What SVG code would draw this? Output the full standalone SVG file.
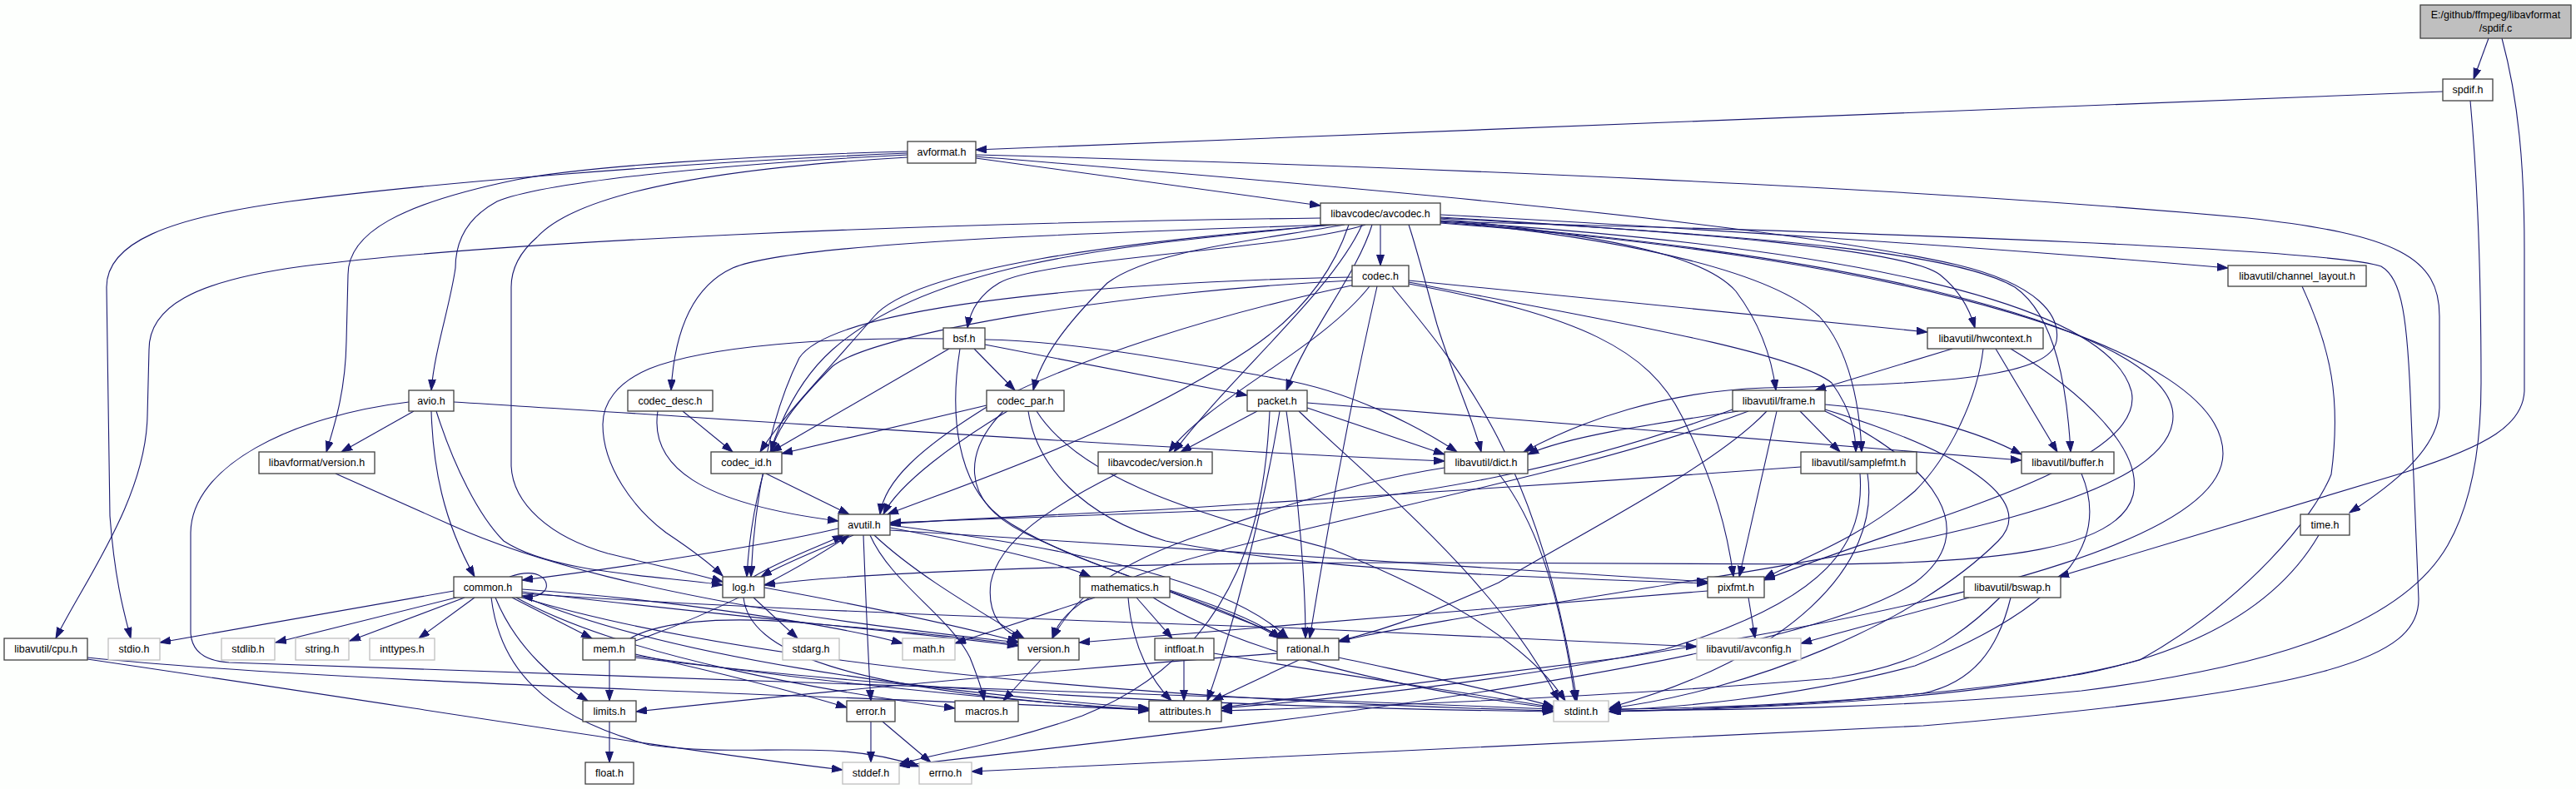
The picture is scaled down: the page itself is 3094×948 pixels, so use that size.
<svg xmlns="http://www.w3.org/2000/svg" width="3094" height="948" viewBox="0 0 3094 948">
<style>
.e{fill:none;stroke:#191970;stroke-width:1.1;marker-end:url(#a)}
.n rect{fill:#ffffff;stroke:#404040;stroke-width:1.3}
.g rect{fill:#ffffff;stroke:#bfbfbf;stroke-width:1.3}
.r rect{fill:#bfbfbf;stroke:#404040;stroke-width:1.3}
text{font-family:"Liberation Sans",Arial,sans-serif;font-size:12.5px;text-anchor:middle;fill:#000}
</style>
<defs>
<marker id="a" markerUnits="userSpaceOnUse" markerWidth="14" markerHeight="10" refX="13" refY="4.5" orient="auto">
<path d="M0,0 L13,4.5 L0,9 z" fill="#191970" stroke="#191970" stroke-width="1"/>
</marker>
</defs>
<rect x="0" y="0" width="3094" height="948" fill="#fdfffd"/>
<g id="edges">
<path class="e" d="M2989,46 L2971,95"/>
<path class="e" d="M3005,46 C3025,120 3032,200 3032,300 L3032,470 C3030,510 2990,535 2890,567 L2472,693"/>
<path class="e" d="M2934,110 L1172,180"/>
<path class="e" d="M2967,121 C2976,220 2980,320 2980,460 C2980,560 2960,620 2940,655 C2880,760 2700,805 2500,830 C2300,850 2100,853 1934,854"/>
<path class="e" d="M1172,186 C1700,200 2300,225 2700,262 C2880,282 2930,310 2930,380 L2930,490 C2930,540 2870,585 2822,616"/>
<path class="e" d="M1172,190 L1586,247"/>
<path class="e" d="M1090,182 C900,187 700,200 620,216 C480,245 418,280 418,330 L416,410 C415,470 402,510 392,543"/>
<path class="e" d="M1090,184 C800,196 500,222 348,242 C200,262 128,292 128,345 L132,620 C138,700 150,740 157,767"/>
<path class="e" d="M1090,186 C850,198 650,220 597,242 C560,262 547,292 547,322 C540,370 522,420 518,469"/>
<path class="e" d="M1090,189 C900,200 700,225 645,285 C622,305 614,325 614,345 L614,560 C616,605 660,645 730,665 C800,682 845,692 868,699"/>
<path class="e" d="M1172,188 C1500,215 2100,262 2350,318 C2450,342 2475,380 2470,410 C2462,450 2350,462 2120,466 C2000,470 1900,505 1830,543"/>
<path class="e" d="M1658,270 L1658,319"/>
<path class="e" d="M1730,258 C2000,272 2400,298 2676,322"/>
<path class="e" d="M1730,261 C2050,280 2290,300 2330,330 C2355,350 2366,372 2372,394"/>
<path class="e" d="M1730,263 C1950,285 2050,310 2085,350 C2115,390 2128,430 2133,469"/>
<path class="e" d="M1730,265 C1980,290 2130,330 2185,380 C2222,420 2234,490 2236,543"/>
<path class="e" d="M1730,262 C2150,285 2350,305 2420,345 C2470,380 2483,470 2487,543"/>
<path class="e" d="M1730,266 C2200,295 2530,360 2560,470 C2580,560 2300,625 2119,697"/>
<path class="e" d="M1730,267 C2250,305 2610,400 2610,500 C2610,600 2300,655 2000,703 C1800,735 1660,757 1608,771"/>
<path class="e" d="M1730,268 C2300,310 2670,420 2670,545 C2670,640 2400,720 1950,790 C1700,822 1550,840 1467,850"/>
<path class="e" d="M1730,266 C2300,280 2800,300 2860,320 C2885,335 2892,380 2896,500 L2905,720 C2905,790 2800,830 2310,872 C1800,900 1400,918 1167,927"/>
<path class="e" d="M1620,270 C1600,330 1560,380 1500,420 C1350,520 1150,585 1066,618"/>
<path class="e" d="M1692,270 C1702,300 1712,340 1726,390 C1748,460 1770,505 1779,543"/>
<path class="e" d="M1596,270 C1400,292 1130,305 1000,420 C930,482 902,600 897,693"/>
<path class="e" d="M1586,262 C1100,268 600,290 363,320 C230,338 179,370 179,420 L177,500 C175,600 100,700 67,767"/>
<path class="e" d="M1640,270 C1550,300 1250,310 1200,340 C1175,355 1165,375 1162,394"/>
<path class="e" d="M1600,270 C1300,280 950,292 880,322 C830,345 810,400 806,469"/>
<path class="e" d="M1615,270 C1500,290 1380,302 1330,340 C1280,390 1250,430 1241,469"/>
<path class="e" d="M1605,270 C1350,290 1100,322 1050,380 C990,450 940,500 913,543"/>
<path class="e" d="M1648,270 C1630,330 1570,400 1545,469"/>
<path class="e" d="M1636,270 C1600,350 1480,450 1410,543"/>
<path class="e" d="M1692,337 L2315,399"/>
<path class="e" d="M1692,339 C1900,380 2150,420 2200,460 C2222,490 2229,520 2229,543"/>
<path class="e" d="M1692,341 C1900,380 1980,420 2020,500 C2060,580 2075,640 2082,693"/>
<path class="e" d="M1654,344 C1630,450 1600,600 1573,767"/>
<path class="e" d="M1672,344 C1760,450 1850,560 1894,842"/>
<path class="e" d="M1624,337 C1350,350 1050,400 1000,440 C960,480 935,510 926,543"/>
<path class="e" d="M1628,342 C1450,380 1300,430 1200,480 C1100,540 1062,580 1057,618"/>
<path class="e" d="M1624,333 C1300,340 1000,370 960,430 C925,500 906,600 902,693"/>
<path class="e" d="M1645,344 C1585,420 1450,480 1404,543"/>
<path class="e" d="M2765,344 C2800,420 2812,480 2800,570 C2780,620 2700,720 2570,793 C2400,840 2100,852 1934,855"/>
<path class="e" d="M1170,419 L1219,469"/>
<path class="e" d="M1140,419 L926,543"/>
<path class="e" d="M1183,414 L1498,475"/>
<path class="e" d="M1183,408 C1300,410 1450,440 1540,456 C1620,470 1700,510 1750,543"/>
<path class="e" d="M1133,407 C1000,405 850,415 780,443 C740,460 724,485 724,510 C724,560 760,610 800,640 C830,660 852,676 868,692"/>
<path class="e" d="M1153,419 C1140,500 1150,580 1200,620 C1300,690 1480,720 1538,767"/>
<path class="e" d="M2397,419 L2471,543"/>
<path class="e" d="M2345,419 L2180,469"/>
<path class="e" d="M2382,419 C2375,480 2340,550 2300,590 C2230,650 2160,672 2119,695"/>
<path class="e" d="M2415,419 C2500,470 2575,540 2562,595 C2545,660 2400,676 2200,678 L1700,676 C1300,676 1000,690 918,703"/>
<path class="e" d="M497,494 L410,543"/>
<path class="e" d="M518,494 C520,560 532,625 570,693"/>
<path class="e" d="M524,494 C545,560 575,620 605,650 C665,690 800,692 868,703"/>
<path class="e" d="M545,483 C900,505 1400,540 1735,554"/>
<path class="e" d="M491,483 C350,500 230,560 229,640 L229,760 C230,782 245,794 275,796 C700,810 1300,830 1865,852"/>
<path class="e" d="M820,494 L880,543"/>
<path class="e" d="M790,494 C780,560 840,605 1007,626"/>
<path class="e" d="M1185,487 L939,545"/>
<path class="e" d="M1210,494 C1150,530 1080,580 1061,618"/>
<path class="e" d="M1205,494 C1160,540 1150,600 1230,640 C1330,690 1480,730 1537,767"/>
<path class="e" d="M1235,494 C1245,560 1300,620 1400,650 C1600,690 1900,695 2051,701"/>
<path class="e" d="M1245,494 C1300,580 1450,620 1600,660 C1750,720 1840,780 1880,842"/>
<path class="e" d="M1510,494 L1418,543"/>
<path class="e" d="M1570,490 L1735,546"/>
<path class="e" d="M1570,484 C1900,510 2200,535 2428,553"/>
<path class="e" d="M1545,494 C1560,600 1568,700 1568,767"/>
<path class="e" d="M1537,494 C1520,600 1480,760 1450,842"/>
<path class="e" d="M1525,494 C1520,600 1500,780 1300,860 C1200,895 1120,906 1080,918"/>
<path class="e" d="M1560,494 C1650,580 1800,700 1872,842"/>
<path class="e" d="M2162,494 L2210,543"/>
<path class="e" d="M2192,486 C2300,495 2380,520 2428,546"/>
<path class="e" d="M2134,494 L2089,693"/>
<path class="e" d="M2088,494 C1980,510 1880,525 1835,546"/>
<path class="e" d="M2081,492 C1900,560 1700,600 1500,612 C1300,620 1150,625 1069,628"/>
<path class="e" d="M2122,494 C2060,560 1900,640 1800,700 C1700,745 1650,760 1608,770"/>
<path class="e" d="M2100,494 C1900,570 1600,620 1400,680 C1300,712 1272,740 1264,767"/>
<path class="e" d="M2192,492 C2350,540 2450,600 2400,650 C2300,750 2100,830 1934,851"/>
<path class="e" d="M2192,494 C2330,560 2380,640 2300,700 C2150,800 1500,872 1080,920"/>
<path class="e" d="M403,569 L540,630 C650,680 800,712 950,737 C1080,757 1180,767 1223,772"/>
<path class="e" d="M920,569 L1020,618"/>
<path class="e" d="M1342,569 C1260,610 1200,650 1190,700 C1185,740 1205,760 1228,767"/>
<path class="e" d="M1800,569 C1840,620 1872,700 1892,842"/>
<path class="e" d="M1735,562 C1650,575 1560,600 1450,640 C1330,680 1290,720 1264,767"/>
<path class="e" d="M2163,561 C1900,580 1600,600 1400,612 C1200,622 1100,626 1069,630"/>
<path class="e" d="M2234,569 C2240,650 2200,720 2000,780 C1800,820 1600,840 1467,851"/>
<path class="e" d="M2243,569 C2260,680 2150,790 1934,850"/>
<path class="e" d="M2500,569 C2530,640 2500,720 2300,800 C2150,840 2000,851 1934,853"/>
<path class="e" d="M1007,635 C900,660 700,688 627,697"/>
<path class="e" d="M1025,643 C985,660 945,675 914,693"/>
<path class="e" d="M1037,643 C1040,720 1043,800 1046,842"/>
<path class="e" d="M1050,643 C1100,690 1170,730 1230,767"/>
<path class="e" d="M1045,643 C1070,700 1140,740 1165,790 C1175,815 1180,830 1182,842"/>
<path class="e" d="M1069,634 C1180,655 1270,675 1310,693"/>
<path class="e" d="M1069,631 C1300,660 1480,700 1547,767"/>
<path class="e" d="M1069,637 C1300,650 1600,670 2051,699"/>
<path class="e" d="M545,710 L192,772"/>
<path class="e" d="M548,718 L331,772"/>
<path class="e" d="M558,718 L420,770"/>
<path class="e" d="M570,718 L503,767"/>
<path class="e" d="M615,718 L711,767"/>
<path class="e" d="M595,718 C620,780 670,820 706,842"/>
<path class="e" d="M612,693 C650,680 662,700 654,710 C647,717 638,718 627,716"/>
<path class="e" d="M627,708 C800,720 1000,750 1084,773"/>
<path class="e" d="M627,711 C850,738 1100,760 1223,776"/>
<path class="e" d="M627,713 C900,732 1300,746 1540,754 L2038,777"/>
<path class="e" d="M627,716 C800,790 1100,830 1380,851"/>
<path class="e" d="M620,718 C750,790 1000,832 1147,851"/>
<path class="e" d="M590,718 C600,800 650,860 780,895 C900,912 1000,885 1104,921"/>
<path class="e" d="M627,718 C900,800 1400,842 1866,854"/>
<path class="e" d="M905,718 L958,767"/>
<path class="e" d="M905,693 C940,672 985,656 1013,643"/>
<path class="e" d="M893,718 C900,780 1000,830 1380,853"/>
<path class="e" d="M918,706 C1050,730 1150,752 1223,771"/>
<path class="e" d="M1315,718 L1147,773"/>
<path class="e" d="M1365,718 L1408,767"/>
<path class="e" d="M1355,718 C1360,780 1385,820 1407,842"/>
<path class="e" d="M1405,711 L1548,767"/>
<path class="e" d="M1385,718 C1500,790 1700,830 1866,851"/>
<path class="e" d="M2100,718 L2108,767"/>
<path class="e" d="M2051,710 C1800,730 1500,755 1296,772"/>
<path class="e" d="M2365,718 L2163,773"/>
<path class="e" d="M2402,718 C2350,770 2300,800 2200,815 C1900,840 1600,850 1467,854"/>
<path class="e" d="M2415,718 C2400,780 2370,820 2310,833 C2150,850 2000,853 1932,855"/>
<path class="e" d="M105,790 C400,820 900,832 1380,853"/>
<path class="e" d="M105,792 C500,850 800,900 1012,925"/>
<path class="e" d="M732,793 L732,842"/>
<path class="e" d="M763,770 C850,740 950,690 1020,643"/>
<path class="e" d="M763,786 C850,805 950,830 1017,850"/>
<path class="e" d="M763,788 C1000,822 1200,840 1380,854"/>
<path class="e" d="M763,790 C1100,832 1500,850 1866,855"/>
<path class="e" d="M757,767 C790,748 860,740 960,748 C1080,758 1180,768 1223,775"/>
<path class="e" d="M1250,793 L1205,842"/>
<path class="e" d="M1422,793 L1422,842"/>
<path class="e" d="M1458,785 C1600,810 1750,830 1866,850"/>
<path class="e" d="M1560,793 L1456,842"/>
<path class="e" d="M1608,790 C1700,810 1800,830 1866,849"/>
<path class="e" d="M1534,785 C1200,810 900,840 764,855"/>
<path class="e" d="M732,867 L732,916"/>
<path class="e" d="M1046,867 L1046,916"/>
<path class="e" d="M1060,867 L1118,916"/>
<path class="e" d="M2785,643 C2740,720 2650,780 2500,810 C2300,840 2100,851 1932,852"/>
</g>
<g id="n-spdif-c" class="r"><rect x="2907" y="6" width="181" height="40"/><text x="2997.5" y="22">E:/github/ffmpeg/libavformat</text><text x="2997.5" y="38">/spdif.c</text></g>
<g id="n-spdif-h" class="n"><rect x="2934" y="95" width="60" height="26"/><text x="2964" y="112">spdif.h</text></g>
<g id="n-avformat-h" class="n"><rect x="1090" y="170" width="82" height="26"/><text x="1131" y="187">avformat.h</text></g>
<g id="n-avcodec-h" class="n"><rect x="1586" y="244" width="144" height="26"/><text x="1658" y="261">libavcodec/avcodec.h</text></g>
<g id="n-codec-h" class="n"><rect x="1624" y="319" width="68" height="25"/><text x="1658" y="336">codec.h</text></g>
<g id="n-channel-layout-h" class="n"><rect x="2676" y="319" width="166" height="25"/><text x="2759" y="336">libavutil/channel_layout.h</text></g>
<g id="n-bsf-h" class="n"><rect x="1133" y="394" width="50" height="25"/><text x="1158" y="411">bsf.h</text></g>
<g id="n-hwcontext-h" class="n"><rect x="2315" y="394" width="139" height="25"/><text x="2384.5" y="411">libavutil/hwcontext.h</text></g>
<g id="n-avio-h" class="n"><rect x="491" y="469" width="54" height="25"/><text x="518" y="486">avio.h</text></g>
<g id="n-codec-desc-h" class="n"><rect x="754" y="469" width="102" height="25"/><text x="805" y="486">codec_desc.h</text></g>
<g id="n-codec-par-h" class="n"><rect x="1185" y="469" width="93" height="25"/><text x="1231.5" y="486">codec_par.h</text></g>
<g id="n-packet-h" class="n"><rect x="1498" y="469" width="72" height="25"/><text x="1534" y="486">packet.h</text></g>
<g id="n-frame-h" class="n"><rect x="2081" y="469" width="111" height="25"/><text x="2136.5" y="486">libavutil/frame.h</text></g>
<g id="n-lavf-version-h" class="n"><rect x="311" y="543" width="139" height="26"/><text x="380.5" y="560">libavformat/version.h</text></g>
<g id="n-codec-id-h" class="n"><rect x="854" y="543" width="85" height="26"/><text x="896.5" y="560">codec_id.h</text></g>
<g id="n-lavc-version-h" class="n"><rect x="1319" y="543" width="137" height="26"/><text x="1387.5" y="560">libavcodec/version.h</text></g>
<g id="n-dict-h" class="n"><rect x="1735" y="543" width="100" height="26"/><text x="1785" y="560">libavutil/dict.h</text></g>
<g id="n-samplefmt-h" class="n"><rect x="2163" y="543" width="139" height="26"/><text x="2232.5" y="560">libavutil/samplefmt.h</text></g>
<g id="n-buffer-h" class="n"><rect x="2428" y="543" width="111" height="26"/><text x="2483.5" y="560">libavutil/buffer.h</text></g>
<g id="n-avutil-h" class="n"><rect x="1007" y="618" width="62" height="25"/><text x="1038" y="635">avutil.h</text></g>
<g id="n-time-h" class="n"><rect x="2763" y="618" width="59" height="25"/><text x="2792.5" y="635">time.h</text></g>
<g id="n-common-h" class="n"><rect x="545" y="693" width="82" height="25"/><text x="586" y="710">common.h</text></g>
<g id="n-log-h" class="n"><rect x="868" y="693" width="50" height="25"/><text x="893" y="710">log.h</text></g>
<g id="n-mathematics-h" class="n"><rect x="1297" y="693" width="108" height="25"/><text x="1351" y="710">mathematics.h</text></g>
<g id="n-pixfmt-h" class="n"><rect x="2051" y="693" width="68" height="25"/><text x="2085" y="710">pixfmt.h</text></g>
<g id="n-bswap-h" class="n"><rect x="2359" y="693" width="116" height="25"/><text x="2417" y="710">libavutil/bswap.h</text></g>
<g id="n-cpu-h" class="n"><rect x="5" y="767" width="100" height="26"/><text x="55" y="784">libavutil/cpu.h</text></g>
<g id="n-stdio-h" class="g"><rect x="130" y="767" width="62" height="26"/><text x="161" y="784">stdio.h</text></g>
<g id="n-stdlib-h" class="g"><rect x="266" y="767" width="64" height="26"/><text x="298" y="784">stdlib.h</text></g>
<g id="n-string-h" class="g"><rect x="355" y="767" width="64" height="26"/><text x="387" y="784">string.h</text></g>
<g id="n-inttypes-h" class="g"><rect x="444" y="767" width="78" height="26"/><text x="483" y="784">inttypes.h</text></g>
<g id="n-mem-h" class="n"><rect x="700" y="767" width="63" height="26"/><text x="731.5" y="784">mem.h</text></g>
<g id="n-stdarg-h" class="g"><rect x="940" y="767" width="68" height="26"/><text x="974" y="784">stdarg.h</text></g>
<g id="n-math-h" class="g"><rect x="1084" y="767" width="63" height="26"/><text x="1115.5" y="784">math.h</text></g>
<g id="n-version-h" class="n"><rect x="1223" y="767" width="73" height="26"/><text x="1259.5" y="784">version.h</text></g>
<g id="n-intfloat-h" class="n"><rect x="1387" y="767" width="71" height="26"/><text x="1422.5" y="784">intfloat.h</text></g>
<g id="n-rational-h" class="n"><rect x="1534" y="767" width="74" height="26"/><text x="1571" y="784">rational.h</text></g>
<g id="n-avconfig-h" class="g"><rect x="2038" y="767" width="125" height="26"/><text x="2100.5" y="784">libavutil/avconfig.h</text></g>
<g id="n-limits-h" class="n"><rect x="700" y="842" width="64" height="25"/><text x="732" y="859">limits.h</text></g>
<g id="n-error-h" class="n"><rect x="1017" y="842" width="58" height="25"/><text x="1046" y="859">error.h</text></g>
<g id="n-macros-h" class="n"><rect x="1147" y="842" width="76" height="25"/><text x="1185" y="859">macros.h</text></g>
<g id="n-attributes-h" class="n"><rect x="1380" y="842" width="87" height="25"/><text x="1423.5" y="859">attributes.h</text></g>
<g id="n-stdint-h" class="g"><rect x="1866" y="842" width="66" height="25"/><text x="1899" y="859">stdint.h</text></g>
<g id="n-float-h" class="n"><rect x="703" y="916" width="58" height="26"/><text x="732" y="933">float.h</text></g>
<g id="n-stddef-h" class="g"><rect x="1012" y="916" width="68" height="26"/><text x="1046" y="933">stddef.h</text></g>
<g id="n-errno-h" class="g"><rect x="1104" y="916" width="63" height="26"/><text x="1135.5" y="933">errno.h</text></g>
</svg>
